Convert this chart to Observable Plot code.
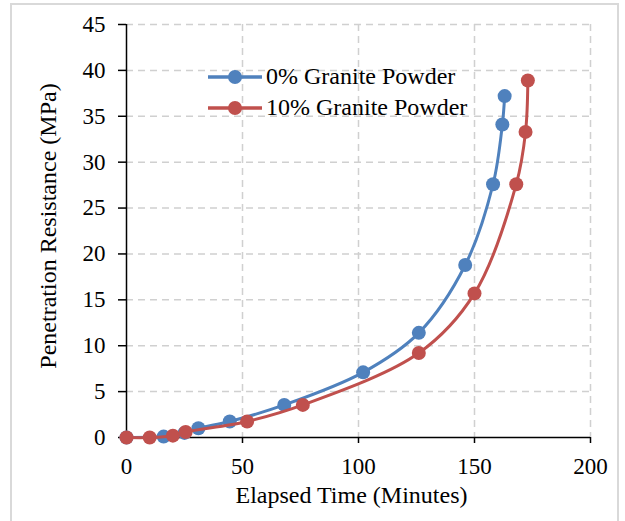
<!DOCTYPE html>
<html>
<head>
<meta charset="utf-8">
<script src="https://cdn.jsdelivr.net/npm/d3@7"></script>
<script src="https://cdn.jsdelivr.net/npm/@observablehq/plot@0.6"></script>
<style>
  html, body { margin: 0; padding: 0; background: #fff; }
  #wrap { position: relative; width: 625px; height: 521px; overflow: hidden; font-family: "Liberation Serif", "Times New Roman", serif; }
  #frame { position: absolute; left: 10px; top: 3px; width: 609px; height: 540px; border: 2px solid #d9d9d9; box-sizing: border-box; }
  #chart { position: absolute; left: 0; top: 0; }
  #legend { position: absolute; left: 207px; top: 61px; font-size: 24px; color: #000; line-height: 31px; }
  .row { display: flex; align-items: center; height: 31px; white-space: nowrap; }
  .row svg { margin-right: 3px; }
</style>
</head>
<body>
<div id="wrap">
  <div id="frame"></div>
  <div id="chart"></div>
  <div id="legend"></div>
</div>
<script>
const seriesNames = ["0% Granite Powder", "10% Granite Powder"];
const seriesColors = ["#4F81BD", "#C0504D"];
const time0 = [0, 16, 25, 31, 44.5, 68, 102, 126, 146, 158, 162, 163];
const res0  = [0, 0.1, 0.5, 1.0, 1.75, 3.55, 7.1, 11.4, 18.8, 27.6, 34.1, 37.2];
const time10 = [0, 10, 20, 25.5, 52, 76, 126, 150, 168, 172, 173];
const res10  = [0, 0, 0.2, 0.6, 1.75, 3.55, 9.2, 15.7, 27.6, 33.3, 38.9];
const xTicks = [0, 50, 100, 150, 200];
const yTicks = [0, 5, 10, 15, 20, 25, 30, 35, 40, 45];

const s0 = time0.map((t, i) => ({t, v: res0[i], s: seriesNames[0]}));
const s10 = time10.map((t, i) => ({t, v: res10[i], s: seriesNames[1]}));

const chart = Plot.plot({
  width: 625,
  height: 521,
  marginLeft: 126,
  marginRight: 35,
  marginTop: 24,
  marginBottom: 84,
  style: {fontFamily: "'Liberation Serif', 'Times New Roman', serif", fontSize: "23px", color: "#000", background: "transparent"},
  x: {domain: [0, 200], ticks: xTicks},
  y: {domain: [0, 45], ticks: yTicks},
  marks: [
    Plot.gridX(xTicks.filter(d => d > 0), {stroke: "#d0d0d0", strokeOpacity: 1, strokeWidth: 1.5, strokeDasharray: "7,5"}),
    Plot.gridY(yTicks.filter(d => d > 0), {stroke: "#d0d0d0", strokeOpacity: 1, strokeWidth: 1.5, strokeDasharray: "7,5"}),
    Plot.axisX(xTicks, {tickSize: 6, tickPadding: 14, strokeWidth: 1.5, fontSize: 23, label: null}),
    Plot.axisY(yTicks, {tickSize: 8, tickPadding: 13, strokeWidth: 1.5, fontSize: 23, label: null}),
    Plot.ruleY([0], {stroke: "#000", strokeWidth: 1.5}),
    Plot.ruleX([0], {stroke: "#000", strokeWidth: 1.5}),
    Plot.line(s0, {x: "t", y: "v", stroke: seriesColors[0], strokeWidth: 3, curve: "catmull-rom"}),
    Plot.dot(s0, {x: "t", y: "v", r: 7, fill: seriesColors[0], stroke: "none"}),
    Plot.line(s10, {x: "t", y: "v", stroke: seriesColors[1], strokeWidth: 3, curve: "catmull-rom"}),
    Plot.dot(s10, {x: "t", y: "v", r: 7, fill: seriesColors[1], stroke: "none"}),
    Plot.text(["Elapsed Time (Minutes)"], {frameAnchor: "bottom", dx: -7, dy: 48, fontSize: 24, lineAnchor: "top", textAnchor: "middle"}),
    Plot.text(["Penetration Resistance (MPa)"], {frameAnchor: "left", dx: -78, dy: -5, rotate: -90, fontSize: 24, textAnchor: "middle"})
  ]
});
document.getElementById("chart").appendChild(chart);

const legend = document.getElementById("legend");
seriesNames.forEach((name, i) => {
  const row = document.createElement("div");
  row.className = "row";
  row.innerHTML = `<svg width="56" height="16"><line x1="1" y1="8" x2="55" y2="8" stroke="${seriesColors[i]}" stroke-width="3.5"/><circle cx="28" cy="8" r="7" fill="${seriesColors[i]}"/></svg><span>${name}</span>`;
  legend.appendChild(row);
});
</script>
</body>
</html>
